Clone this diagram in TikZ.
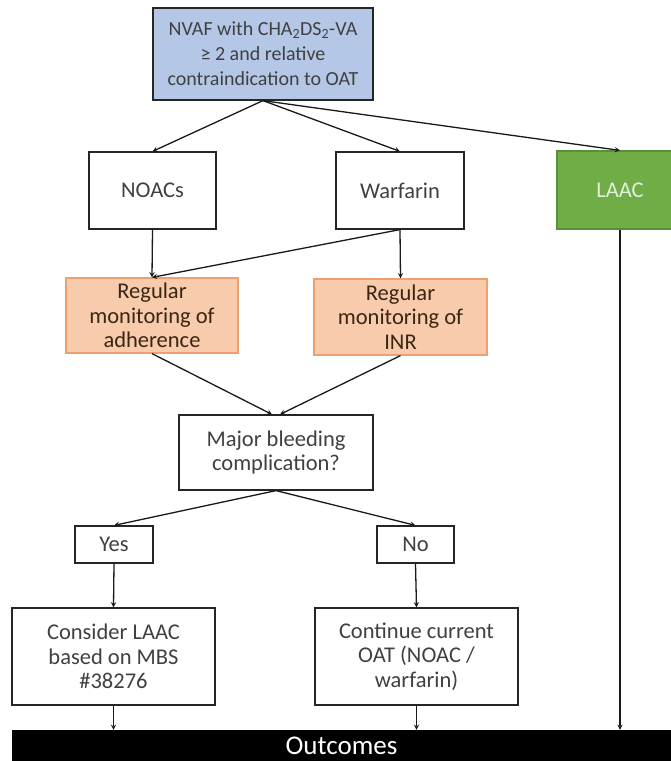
\documentclass[tikz,border=0pt]{standalone}
\usepackage{fontspec}
\setmainfont{Carlito}
\usetikzlibrary{positioning,calc}
\tikzset{>=stealth}
\definecolor{blueFill}{HTML}{B4C7E7}
\definecolor{orangeFill}{HTML}{F8CBAD}
\definecolor{orangeLine}{HTML}{EDA070}
\definecolor{greenFill}{HTML}{70AD47}
\definecolor{greenLine}{HTML}{5A8F3A}
\definecolor{greenText}{HTML}{E2F0D9}
\colorlet{textColor}{black!75}
\tikzset{
  box/.style={draw=black!85,line width=1.2pt,fill=white,align=center,
    text=textColor,inner sep=0pt,font=\fontsize{22.5}{24.5}\selectfont},
  startbox/.style={box,fill=blueFill,font=\fontsize{20}{25}\selectfont},
  checkbox/.style={box,draw=orangeLine,fill=orangeFill,text=black!70!brown},
  laacbox/.style={box,draw=greenLine,fill=greenFill,text=greenText},
  outbar/.style={fill=black,text=white,inner sep=0pt,font=\fontsize{27}{28}\selectfont},
  flow/.style={->,line width=1.3pt,black!90}
}
\begin{document}
\begin{tikzpicture}[x=1pt,y=-1pt]
  \useasboundingbox (0,0) rectangle (671,761);
  \node[startbox,minimum width=220pt,minimum height=92pt] (start) at (263,54)
    {NVAF with CHA\textsubscript{2}DS\textsubscript{2}-VA\\ ≥ 2 and relative\\ contraindication to OAT};
  % treatment arms
  \node[box,minimum width=127pt,minimum height=77pt] (noacs) at (152.5,190.5) {NOACs};
  \node[box,minimum width=128pt,minimum height=77pt] (warf) at (400,190.5) {Warfarin};
  \node[laacbox,minimum width=126pt,minimum height=78pt] (laac) at (620,190) {LAAC};
  \node[checkbox,minimum width=172pt,minimum height=75pt] (adher) at (152,315.5)
    {Regular\\ monitoring of\\ adherence};
  \node[checkbox,minimum width=173pt,minimum height=76pt] (inr) at (400.5,317)
    {Regular\\ monitoring of\\ INR};
  \node[box,minimum width=194pt,minimum height=75pt] (major) at (276,452.5)
    {Major bleeding\\ complication?};
  \node[box,minimum width=78pt,minimum height=37pt] (yes) at (114,544.5) {Yes};
  \node[box,minimum width=77pt,minimum height=37pt] (no) at (415.5,544.5) {No};
  \node[box,minimum width=203pt,minimum height=97pt] (consider) at (113.5,656.5)
    {Consider LAAC\\ based on MBS\\ \#38276};
  \node[box,minimum width=203pt,minimum height=97pt] (cont) at (416.5,656.5)
    {Continue current\\ OAT (NOAC /\\ warfarin)};
  \node[outbar,minimum width=659pt,minimum height=31pt] (outc) at (341.5,745.5) {Outcomes};
  % connectors
  \draw[flow] (start.south) -- (noacs.north);
  \draw[flow] (start.south) -- (warf.north);
  \draw[flow] (start.south) -- (laac.north);
  \draw[flow] (noacs.south) -- (adher.north);
  \draw[flow] (warf.south) -- (inr.north);
  \draw[flow] (warf.south) -- (adher.north);
  \draw[flow] (adher.south) -- ([xshift=-4pt]major.north);
  \draw[flow] (inr.south) -- ([xshift=4pt]major.north);
  \draw[flow] (major.south) -- (yes.north);
  \draw[flow] (major.south) -- (no.north);
  \draw[flow] (yes.south) -- (consider.north);
  \draw[flow] (no.south) -- (cont.north);
  \draw[flow] (consider.south) -- (consider.south |- outc.north);
  \draw[flow] (cont.south) -- (cont.south |- outc.north);
  \draw[flow] (laac.south) -- (laac.south |- outc.north);
\end{tikzpicture}
\end{document}
